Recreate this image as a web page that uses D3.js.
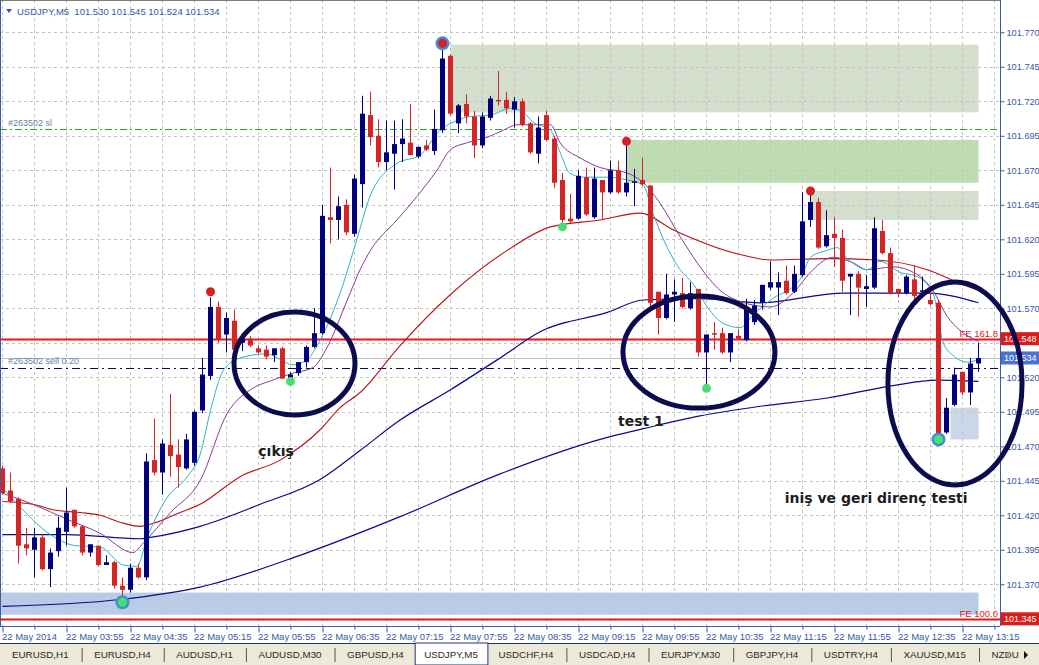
<!DOCTYPE html>
<html><head><meta charset="utf-8">
<script src="https://cdn.jsdelivr.net/npm/d3@7"></script>
<style>
html,body{margin:0;padding:0;background:#fff;overflow:hidden;}
svg{display:block;}
</style></head><body>
<svg id="c" width="1039" height="665"></svg>
<script>
// ---------- DATA ----------
const symbol = "USDJPY,M5";
const headerOHLC = ["101.530","101.545","101.524","101.534"];
const opens = [101.454,101.438,101.432,101.399,101.395,101.404,101.381,101.394,101.408,101.424,101.412,101.393,101.398,101.384,101.386,101.369,101.366,101.382,101.375,101.460,101.451,101.471,101.464,101.454,101.458,101.496,101.521,101.571,101.551,101.561,101.545,101.548,101.541,101.540,101.536,101.541,101.518,101.523,101.531,101.542,101.552,101.636,101.634,101.645,101.624,101.660,101.710,101.695,101.676,101.682,101.689,101.690,101.680,101.688,101.684,101.699,101.753,101.704,101.718,101.709,101.688,101.708,101.721,101.721,101.714,101.720,101.704,101.682,101.710,101.693,101.663,101.635,101.635,101.665,101.636,101.663,101.654,101.670,101.654,101.661,101.663,101.659,101.582,101.563,101.580,101.581,101.570,101.584,101.538,101.552,101.552,101.538,101.550,101.547,101.560,101.574,101.585,101.585,101.590,101.582,101.594,101.634,101.647,101.615,101.624,101.621,101.593,101.595,101.584,101.585,101.626,101.610,101.584,101.581,101.591,101.582,101.576,101.574,101.480,101.500,101.524,101.509,101.530];
const highs = [101.456,101.451,101.433,101.411,101.411,101.406,101.396,101.419,101.440,101.424,101.413,101.399,101.398,101.391,101.387,101.375,101.385,101.385,101.465,101.490,101.475,101.508,101.475,101.479,101.496,101.534,101.578,101.575,101.567,101.569,101.550,101.550,101.543,101.543,101.541,101.542,101.524,101.531,101.543,101.570,101.645,101.672,101.651,101.649,101.667,101.724,101.727,101.707,101.706,101.706,101.707,101.718,101.687,101.692,101.714,101.762,101.754,101.718,101.725,101.713,101.712,101.724,101.742,101.727,101.723,101.722,101.705,101.709,101.713,101.695,101.668,101.653,101.670,101.672,101.672,101.663,101.677,101.677,101.692,101.671,101.679,101.659,101.582,101.595,101.591,101.592,101.589,101.584,101.551,101.560,101.556,101.552,101.555,101.577,101.576,101.587,101.604,101.596,101.601,101.601,101.654,101.655,101.650,101.641,101.636,101.627,101.595,101.597,101.594,101.636,101.634,101.614,101.584,101.594,101.601,101.593,101.585,101.576,101.505,101.527,101.524,101.534,101.545];
const lows = [101.435,101.429,101.385,101.391,101.375,101.380,101.368,101.390,101.398,101.411,101.391,101.390,101.383,101.384,101.367,101.356,101.364,101.374,101.373,101.449,101.435,101.448,101.440,101.453,101.456,101.494,101.518,101.545,101.538,101.538,101.539,101.542,101.537,101.533,101.531,101.519,101.515,101.521,101.527,101.541,101.551,101.617,101.620,101.623,101.622,101.643,101.688,101.672,101.670,101.656,101.676,101.681,101.679,101.684,101.681,101.697,101.710,101.697,101.704,101.679,101.686,101.706,101.717,101.711,101.701,101.702,101.682,101.675,101.691,101.657,101.629,101.632,101.634,101.637,101.635,101.634,101.653,101.653,101.651,101.644,101.659,101.571,101.551,101.562,101.560,101.570,101.569,101.535,101.512,101.540,101.537,101.531,101.547,101.546,101.558,101.569,101.583,101.565,101.580,101.581,101.593,101.629,101.613,101.614,101.600,101.582,101.565,101.564,101.571,101.584,101.609,101.580,101.578,101.580,101.575,101.581,101.572,101.475,101.479,101.499,101.507,101.500,101.524];
const closes = [101.436,101.430,101.398,101.396,101.404,101.381,101.393,101.411,101.422,101.412,101.393,101.399,101.384,101.386,101.369,101.366,101.382,101.375,101.459,101.451,101.472,101.463,101.455,101.475,101.495,101.522,101.571,101.547,101.563,101.540,101.548,101.543,101.538,101.535,101.541,101.519,101.522,101.531,101.542,101.552,101.637,101.634,101.644,101.625,101.664,101.711,101.694,101.676,101.683,101.689,101.693,101.681,101.687,101.685,101.700,101.751,101.711,101.717,101.709,101.688,101.709,101.722,101.720,101.715,101.720,101.703,101.683,101.701,101.692,101.661,101.634,101.633,101.666,101.638,101.664,101.654,101.670,101.654,101.661,101.662,101.660,101.574,101.563,101.580,101.582,101.571,101.581,101.538,101.551,101.551,101.538,101.552,101.548,101.569,101.572,101.587,101.589,101.589,101.581,101.595,101.633,101.647,101.614,101.623,101.621,101.590,101.595,101.585,101.586,101.628,101.610,101.581,101.581,101.593,101.579,101.583,101.573,101.477,101.498,101.522,101.509,101.530,101.534];

// moving averages: [bar, price]
const cyanMA = [[0,101.440],[2.2,101.426],[6,101.406],[9.1,101.398],[12.2,101.397],[15.1,101.384],[16.8,101.383],[18.1,101.404],[20.6,101.433],[23.1,101.448],[24.7,101.464],[26,101.496],[27.6,101.525],[29.7,101.534],[33.1,101.537],[34.7,101.533],[36.3,101.529],[38.1,101.533],[39.7,101.547],[42.2,101.581],[44.1,101.616],[46,101.652],[49.3,101.675],[52.2,101.681],[54.7,101.699],[56.8,101.706],[58.5,101.709],[61,101.710],[63.5,101.715],[65.1,101.712],[66.3,101.705],[68.5,101.699],[69.7,101.683],[70.9,101.668],[72.6,101.665],[75.6,101.665],[78.1,101.663],[80.1,101.659],[81.3,101.639],[83.1,101.614],[84.7,101.598],[86.3,101.588],[88.1,101.571],[90.1,101.559],[92.2,101.556],[93.8,101.565],[96,101.576],[99.7,101.591],[101,101.607],[103.1,101.612],[104.3,101.614],[105.6,101.606],[108.1,101.598],[109.7,101.604],[112.2,101.596],[114.3,101.593],[116.3,101.581],[117.6,101.545],[118.8,101.536],[120.6,101.531],[122,101.533]];
const purpleMA = [[0,101.436],[3.8,101.428],[8.1,101.417],[12.2,101.407],[16.3,101.393],[17.6,101.400],[21,101.422],[24.7,101.445],[28.1,101.494],[31,101.511],[33.8,101.518],[36.3,101.523],[38.8,101.527],[40.6,101.542],[43.1,101.576],[44.7,101.598],[46,101.612],[49.3,101.634],[51.8,101.651],[54.3,101.670],[56,101.685],[58.1,101.690],[60.6,101.694],[62.6,101.699],[64.3,101.703],[68.5,101.703],[69.7,101.690],[72.2,101.679],[74.7,101.672],[78.1,101.668],[80.1,101.661],[82.2,101.646],[84.7,101.622],[87.2,101.600],[89.7,101.583],[92.2,101.575],[96,101.571],[98.8,101.581],[101.3,101.598],[103.8,101.607],[106.3,101.603],[108.1,101.598],[111.3,101.600],[114.7,101.593],[116.3,101.583],[118.1,101.564],[119.7,101.554],[122,101.546]];
const redMA = [[0,101.430],[3.8,101.428],[6.3,101.424],[9.7,101.422],[12.2,101.420],[14.7,101.415],[17.2,101.412],[18.8,101.414],[22.2,101.422],[24.7,101.428],[29.7,101.448],[34.7,101.460],[39.7,101.482],[42.2,101.498],[44.7,101.509],[49.7,101.543],[56,101.580],[63.1,101.612],[68.5,101.629],[74.7,101.634],[79.7,101.639],[83.8,101.627],[92.2,101.609],[96,101.605],[103.1,101.606],[109.3,101.605],[115.6,101.598],[119.7,101.588],[122,101.583]];
const navyMA = [[0,101.406],[8.1,101.406],[17.2,101.403],[18.5,101.404],[24.7,101.412],[32.2,101.428],[39.7,101.446],[44.7,101.467],[49.7,101.489],[56,101.511],[62.2,101.534],[67.2,101.553],[75.6,101.567],[80.1,101.576],[87.2,101.577],[94.7,101.574],[105.1,101.581],[115.6,101.581],[122,101.574]];
const slowMA = [[0,101.354],[14.7,101.359],[24.7,101.368],[37.2,101.391],[49.7,101.419],[62.2,101.450],[74.7,101.475],[81,101.484],[87.2,101.492],[94.7,101.499],[103.1,101.505],[111.3,101.514],[116.8,101.518],[122,101.517]];

// zones: [startBar, endBar, topPrice, bottomPrice]
const greyZones = [[56,122,101.761,101.712],[101,122,101.655,101.634]];
const greenZones = [[78,122,101.692,101.661]];
const blueZones = [[-1,122,101.364,101.348]];
const paleBlueZones = [[118.5,122,101.498,101.475]];

// fractal marks [bar, price]
const redMarks = [[26,101.582],[78,101.691],[101,101.655]];
const greenMarks = [[36,101.517],[70,101.629],[88,101.512]];
const ringRedMarks = [[55,101.762]];
const ringGreenMarks = [[15,101.357],[117,101.475]];

// levels
const slLevel = 101.700, sellLevel = 101.527, bidLevel = 101.534, fe1618 = 101.548, fe100 = 101.345;

const yTicks = [101.370,101.395,101.420,101.445,101.470,101.495,101.520,101.545,101.570,101.595,101.620,101.645,101.670,101.695,101.720,101.745,101.770];
const timeBars = [0,8,16,24,32,40,48,56,64,72,80,88,96,104,112,120];
const timeLabels = ["22 May 2014","22 May 03:55","22 May 04:35","22 May 05:15","22 May 05:55","22 May 06:35","22 May 07:15","22 May 07:55","22 May 08:35","22 May 09:15","22 May 09:55","22 May 10:35","22 May 11:15","22 May 11:55","22 May 12:35","22 May 13:15"];
const tabs = ["EURUSD,H1","EURUSD,H4","AUDUSD,H1","AUDUSD,M30","GBPUSD,H4","USDJPY,M5","USDCHF,H4","USDCAD,H4","EURJPY,M30","GBPJPY,H4","USDTRY,H4","XAUUSD,M15","NZDU"];
const activeTab = "USDJPY,M5";
// ellipses: [centerBar, centerPrice, radiusBars, radiusPrice]
const ellipses = [[36.5,101.5300,7.56,0.0373],[87.06,101.5383,9.5,0.0406],[119.06,101.5155,8.38,0.0736]];
const notes = [["çıkış",34.2,101.463],["test 1",79.8,101.485],["iniş ve geri direnç testi",109.2,101.429]];

// ---------- DRAW ----------
const svg = d3.select("#c");
const W = 1039, H = 665;
const plotR = 1000, plotB = 626;
const x = d3.scaleLinear().domain([0,122]).range([2.5,978.5]);
const y = d3.scaleLinear().domain([101.345,101.770]).range([618.8,32.3]);
const bull = "#00007f", bear = "#d42424";
const axisCol = "#3d5aa8", txtCol = "#3b56a6";
const small = "Liberation Sans, Arial, sans-serif";

svg.append("rect").attr("width",W).attr("height",H).attr("fill","#fff");
svg.append("defs").append("clipPath").attr("id","pc")
  .append("rect").attr("x",1).attr("y",1).attr("width",plotR-1).attr("height",plotB-1);
const plot = svg.append("g").attr("clip-path","url(#pc)");

// zones
function zone(list, fill){
  plot.append("g").selectAll("rect").data(list).join("rect")
    .attr("x",d=>x(d[0])).attr("width",d=>x(d[1])-x(d[0]))
    .attr("y",d=>y(d[2])).attr("height",d=>y(d[3])-y(d[2]))
    .attr("fill",fill);
}
zone(greyZones,"#d3dfcc");
zone(greenZones,"#bfdbb2");
zone(blueZones,"#b8cce6");
zone(paleBlueZones,"#cad7e7");

// grid
plot.append("g").selectAll("line").data(d3.range(0,125,4)).join("line")
  .attr("x1",d=>x(d)).attr("x2",d=>x(d)).attr("y1",0).attr("y2",plotB)
  .attr("stroke","#c3c3c3").attr("stroke-dasharray","3,3");
plot.append("g").selectAll("line").data(yTicks).join("line")
  .attr("x1",0).attr("x2",plotR).attr("y1",d=>Math.round(y(d))+0.5).attr("y2",d=>Math.round(y(d))+0.5)
  .attr("stroke","#c3c3c3").attr("stroke-dasharray","3,3");

// levels
function hline(p, col, w, dash){
  const l = plot.append("line").attr("x1",0).attr("x2",plotR)
    .attr("y1",Math.round(y(p))+0.5).attr("y2",Math.round(y(p))+0.5)
    .attr("stroke",col).attr("stroke-width",w);
  if(dash) l.attr("stroke-dasharray",dash);
}
hline(slLevel,"#2aa52a",1,"7,3,2,3");
hline(bidLevel,"#bdbdbd",1);
hline(sellLevel,"#0a0a5a",1,"8,4,2,4");
hline(fe1618,"#e11b1b",2);
hline(fe100,"#e11b1b",2);

plot.append("text").attr("x",8).attr("y",y(slLevel)-3).text("#263502 sl")
  .attr("font-family",small).attr("font-size",9).attr("fill","#6680a8");
plot.append("text").attr("x",8).attr("y",y(sellLevel)-4).text("#263502 sell 0.20")
  .attr("font-family",small).attr("font-size",9).attr("fill","#6680a8");
plot.append("text").attr("x",998).attr("y",y(fe1618)-2).attr("text-anchor","end").text("FE 161.8")
  .attr("font-family",small).attr("font-size",9.5).attr("fill","#e11b1b");
plot.append("text").attr("x",998).attr("y",y(fe100)-2).attr("text-anchor","end").text("FE 100.0")
  .attr("font-family",small).attr("font-size",9.5).attr("fill","#e11b1b");

// moving averages
const line = d3.line().x(d=>x(d[0])).y(d=>y(d[1])).curve(d3.curveMonotoneX);
function ma(data,col,w){ plot.append("path").attr("d",line(data)).attr("fill","none").attr("stroke",col).attr("stroke-width",w); }
ma(slowMA,"#0a0a8c",1.2);
ma(navyMA,"#0a0a8c",1.2);
ma(redMA,"#b81414",1.1);
ma(purpleMA,"#8a3a9a",1);
ma(cyanMA,"#2ab4c8",1);

// candles
const idx = d3.range(opens.length);
const cg = plot.append("g");
cg.selectAll("line").data(idx).join("line")
  .attr("x1",i=>x(i)).attr("x2",i=>x(i))
  .attr("y1",i=>y(highs[i])).attr("y2",i=>y(lows[i]))
  .attr("stroke",i=>closes[i]>=opens[i]?bull:bear).attr("stroke-width",1);
cg.selectAll("rect").data(idx).join("rect")
  .attr("x",i=>x(i)-2.5).attr("width",5)
  .attr("y",i=>y(Math.max(opens[i],closes[i])))
  .attr("height",i=>Math.max(1.5,Math.abs(y(opens[i])-y(closes[i]))))
  .attr("fill",i=>closes[i]>=opens[i]?bull:bear);

// marks
plot.append("g").selectAll("circle").data(ringRedMarks.concat(ringGreenMarks)).join("circle")
  .attr("cx",d=>x(d[0])).attr("cy",d=>y(d[1])).attr("r",7).attr("fill","#3f8fd2");
plot.append("g").selectAll("circle").data(redMarks.concat(ringRedMarks)).join("circle")
  .attr("cx",d=>x(d[0])).attr("cy",d=>y(d[1])).attr("r",4.5).attr("fill","#d82020");
plot.append("g").selectAll("circle").data(greenMarks.concat(ringGreenMarks)).join("circle")
  .attr("cx",d=>x(d[0])).attr("cy",d=>y(d[1])).attr("r",4.5).attr("fill","#44e070");

// frame
svg.append("line").attr("x1",0).attr("x2",plotR).attr("y1",0.5).attr("y2",0.5).attr("stroke","#7a7a7a");
svg.append("line").attr("x1",0.5).attr("x2",0.5).attr("y1",0).attr("y2",plotB).attr("stroke",axisCol);

// right axis (label under the 101.548 tag is hidden, as in the terminal)
const ya = d3.axisRight(y).tickValues(yTicks).tickSize(4)
  .tickFormat(d=>Math.abs(d-fe1618)<0.006?"":d3.format(".3f")(d));
const gya = svg.append("g").attr("transform",`translate(${plotR+0.5},0)`).call(ya);
gya.select(".domain").attr("stroke",axisCol).attr("d",`M0,0V${plotB}`);
gya.selectAll(".tick line").attr("stroke",axisCol);
gya.selectAll("text").attr("font-family",small).attr("font-size",9.2).attr("fill",txtCol).attr("x",6);

// bottom axis
const xa = d3.axisBottom(x).tickValues(d3.range(0,125,4)).tickSize(4)
  .tickFormat(d=>{const k=timeBars.indexOf(d);return k>=0?timeLabels[k]:"";});
const gxa = svg.append("g").attr("transform",`translate(0,${plotB+0.5})`).call(xa);
gxa.select(".domain").attr("stroke",axisCol).attr("d",`M0,0H${plotR}`);
gxa.selectAll(".tick line").attr("stroke",axisCol).attr("y2",d=>timeBars.includes(d)?6:3);
gxa.selectAll("text").attr("font-family",small).attr("font-size",9.5).attr("fill",txtCol)
  .attr("text-anchor","start").attr("x",-1).attr("y",7).attr("dy","0.71em");

// price tags
function tag(p,label,bg){
  const yy = y(p);
  svg.append("rect").attr("x",1001).attr("y",yy-6.5).attr("width",38).attr("height",13).attr("fill",bg);
  svg.append("text").attr("x",1004).attr("y",yy+3.5).text(label)
    .attr("font-family",small).attr("font-size",9).attr("fill","#fff");
}
tag(fe1618,"101.548","#dc1c1c");
tag(bidLevel,"101.534","#4a72d0");
tag(fe100,"101.345","#dc1c1c");

// header
svg.append("path").attr("d","M6,9 L12,9 L9,13 Z").attr("fill","#2a58c0");
svg.append("text").attr("x",17).attr("y",15).attr("font-family",small).attr("font-size",9.5).attr("fill",txtCol)
  .attr("xml:space","preserve").text(symbol+"  "+headerOHLC.join(" "));

// annotations
svg.append("g").selectAll("text").data(notes).join("text")
  .attr("x",d=>x(d[1])).attr("y",d=>y(d[2])).attr("text-anchor","middle")
  .attr("font-family","DejaVu Sans, sans-serif").attr("font-weight","bold").attr("font-size",14)
  .attr("fill","#1c1c24").text(d=>d[0]);

// ellipses
svg.append("g").selectAll("ellipse").data(ellipses).join("ellipse")
  .attr("cx",d=>x(d[0])).attr("cy",d=>y(d[1]))
  .attr("rx",d=>x(d[2])-x(0)).attr("ry",d=>y(d[1]-d[3])-y(d[1]))
  .attr("fill","none").attr("stroke","#0b0b4e").attr("stroke-width",5);

// tab bar
const tb = svg.append("g");
tb.append("rect").attr("x",0).attr("y",643).attr("width",W).attr("height",22).attr("fill","#ece9d8");
tb.append("line").attr("x1",0).attr("x2",W).attr("y1",643.5).attr("y2",643.5).attr("stroke","#1f3570");
let tx = 12;
tabs.forEach((t,k)=>{
  const te = tb.append("text").attr("x",tx).attr("y",658).attr("font-family",small).attr("font-size",9.8).attr("fill","#2a2a2a").text(t);
  const w = te.node().getComputedTextLength();
  if(t===activeTab){
    tb.insert("rect","text").attr("x",tx-9).attr("y",643).attr("width",w+19).attr("height",22).attr("fill","#fff")
      .attr("stroke","#1f3570").attr("stroke-width",1);
  } else if(k<tabs.length-1 && tabs[k+1]!==activeTab){
    tb.append("line").attr("x1",tx+w+13.5).attr("x2",tx+w+13.5).attr("y1",648).attr("y2",662).attr("stroke","#555");
  }
  const gap = (t===activeTab || tabs[k+1]===activeTab) ? 20.5 : 25.5;
  tx = tx + w + gap;
});
tb.append("path").attr("d","M1009,651 L1005,655 L1009,659 Z").attr("fill","#aaa");
tb.append("path").attr("d","M1024,651 L1028,655 L1024,659 Z").attr("fill","#111");
</script>
</body></html>
